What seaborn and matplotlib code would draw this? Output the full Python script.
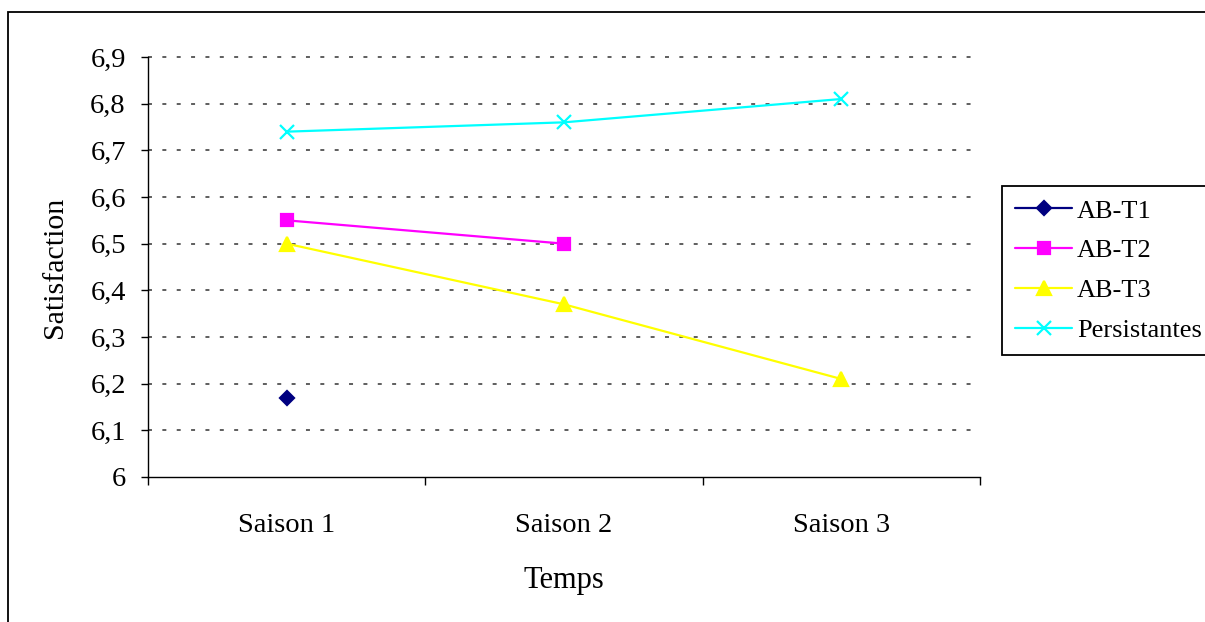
import numpy as np
import pandas as pd
import matplotlib
matplotlib.use("Agg")
import matplotlib.pyplot as plt
import matplotlib.patches as mpatches
import seaborn as sns

saisons = ["Saison 1", "Saison 2", "Saison 3"]
ab_t1 = [6.17, np.nan, np.nan]
ab_t2 = [6.55, 6.50, np.nan]
ab_t3 = [6.50, 6.37, 6.21]
persistantes = [6.74, 6.76, 6.81]
series_names = ["AB-T1", "AB-T2", "AB-T3", "Persistantes"]
yticks = [6.0, 6.1, 6.2, 6.3, 6.4, 6.5, 6.6, 6.7, 6.8, 6.9]
ytick_labels = ["6", "6,1", "6,2", "6,3", "6,4", "6,5", "6,6", "6,7", "6,8", "6,9"]

sns.set_theme(style="white")
plt.rcParams["font.family"] = ["Liberation Serif", "DejaVu Serif"]
plt.rcParams["text.color"] = "black"
plt.rcParams["axes.labelcolor"] = "black"
plt.rcParams["xtick.color"] = "black"
plt.rcParams["ytick.color"] = "black"

rows = []
for name, vals in zip(series_names, [ab_t1, ab_t2, ab_t3, persistantes]):
    for i, (s, v) in enumerate(zip(saisons, vals)):
        rows.append({"serie": name, "pos": i, "saison": s, "val": v})
df = pd.DataFrame(rows)

styles = {
    "AB-T1": dict(color="#000080", marker="D", markersize=7.5),
    "AB-T2": dict(color="#FF00FF", marker="s", markersize=9),
    "AB-T3": dict(color="#FFFF00", marker="^", markersize=10.5),
    "Persistantes": dict(color="#00FFFF", marker="x", markersize=10),
}

fig = plt.figure(figsize=(12.05, 6.22), dpi=100)
ax = fig.add_axes([148 / 1205, 1 - 477 / 622, (980 - 148) / 1205, (477 - 57) / 622])

for name in series_names:
    st = styles[name]
    sub = df[df["serie"] == name].dropna(subset=["val"])
    sns.lineplot(data=sub, x="pos", y="val", ax=ax, color=st["color"],
                 marker=st["marker"], markersize=st["markersize"],
                 markeredgecolor=st["color"], markerfacecolor=st["color"],
                 markeredgewidth=1.6, linewidth=1.6, label=name,
                 errorbar=None, sort=False)

ax.set_xlim(-0.5, 2.5)
ax.set_ylim(6.0, 6.9)
ax.set_yticks(yticks)
ax.set_yticklabels(ytick_labels, fontsize=20.5)
ax.set_xticks([-0.5, 0.5, 1.5, 2.5])
ax.set_xticklabels([])
ax.set_xticks([0, 1, 2], minor=True)
ax.set_xticklabels(saisons, minor=True, fontsize=20.5)
ax.tick_params(axis="x", which="major", direction="out", length=6, width=1, color="black", bottom=True)
ax.tick_params(axis="x", which="minor", length=0, pad=26, bottom=True)
ax.tick_params(axis="y", which="major", direction="out", length=5, width=1, color="black", pad=11, left=True)

for sp in ["top", "right"]:
    ax.spines[sp].set_visible(False)
for sp in ["left", "bottom"]:
    ax.spines[sp].set_color("black")
    ax.spines[sp].set_linewidth(1)

for y in yticks[1:]:
    ax.axhline(y, color="#333333", linewidth=1.1, linestyle=(0, (2.6, 6.8)), zorder=0, clip_on=False)

ax.set_xlabel("Temps", fontsize=22)
ax.set_ylabel("Satisfaction", fontsize=21.5)
ax.xaxis.set_label_coords(0.5, -0.212)
ax.yaxis.set_label_coords(-0.096, 0.5)

handles, labels = ax.get_legend_handles_labels()
leg = ax.legend(handles, labels, loc="upper left",
                bbox_to_anchor=(1002 / 1205, 1 - 186 / 622), bbox_transform=fig.transFigure,
                borderaxespad=0, fontsize=19, frameon=True, fancybox=False,
                edgecolor="black", framealpha=1, labelspacing=0.62,
                handlelength=2.15, handletextpad=0.2, borderpad=0.5)
leg.get_frame().set_linewidth(1.3)

border = mpatches.Rectangle((8 / 1205, -0.1), 1.2, 1 - 12 / 622 + 0.1,
                            transform=fig.transFigure, fill=False,
                            edgecolor="black", linewidth=1.3, clip_on=False)
fig.patches.append(border)

fig.savefig("out.png", dpi=100)
